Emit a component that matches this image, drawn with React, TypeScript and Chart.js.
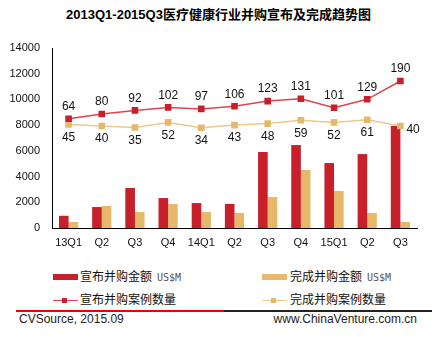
import React, { useEffect, useRef } from "react";
import { Chart, registerables } from "chart.js";

Chart.register(...registerables);

const categories = ["13Q1", "Q2", "Q3", "Q4", "14Q1", "Q2", "Q3", "Q4", "15Q1", "Q2", "Q3"];
const announcedAmount = [950, 1630, 3110, 2330, 1940, 1870, 5910, 6450, 5050, 5750, 7930];
const completedAmount = [470, 1710, 1240, 1870, 1240, 1170, 2410, 4510, 2880, 1170, 470];
const announcedCount = [64, 80, 92, 102, 97, 106, 123, 131, 101, 129, 190];
const completedCount = [45, 40, 35, 52, 34, 43, 48, 59, 52, 61, 40];
const amountAxis = { min: 0, max: 14000, step: 2000 };
const countAxis = { min: -300, max: 300 };

const RED = "#C8202A";
const RED_LINE = "#DE4650";
const GOLD = "#E6B86A";
const GOLD_LINE = "#EEC88C";
const LATIN = "'Liberation Sans', Arial, sans-serif";
const CJK = "'Liberation Sans', 'Noto Sans CJK SC', sans-serif";

const valueLabels = {
  id: "valueLabels",
  afterDatasetsDraw(chart: any) {
    const ctx = chart.ctx;
    ctx.save();
    ctx.font = "12px " + LATIN;
    ctx.fillStyle = "#111";
    ctx.textBaseline = "middle";
    [2, 3].forEach((di) => {
      const meta = chart.getDatasetMeta(di);
      const data = chart.data.datasets[di].data as number[];
      meta.data.forEach((pt: any, i: number) => {
        const v = String(data[i]);
        if (di === 2) {
          ctx.textAlign = "center";
          ctx.fillText(v, pt.x, pt.y - 12);
        } else if (i === data.length - 1) {
          ctx.textAlign = "left";
          ctx.fillText(v, pt.x + 6, pt.y + 4);
        } else {
          ctx.textAlign = "center";
          ctx.fillText(v, pt.x, pt.y + 13);
        }
      });
    });
    ctx.restore();
  },
};

export default function App() {
  const ref = useRef<HTMLCanvasElement | null>(null);

  useEffect(() => {
    if (!ref.current) return;
    const chart = new Chart(ref.current, {
      type: "bar",
      data: {
        labels: categories,
        datasets: [
          {
            type: "bar",
            label: "宣布并购金额 US$M",
            data: announcedAmount,
            backgroundColor: RED,
            yAxisID: "y",
            order: 1,
            categoryPercentage: 0.58,
            barPercentage: 1,
          },
          {
            type: "bar",
            label: "完成并购金额 US$M",
            data: completedAmount,
            backgroundColor: GOLD,
            yAxisID: "y",
            order: 1,
            categoryPercentage: 0.58,
            barPercentage: 1,
          },
          {
            type: "line",
            label: "宣布并购案例数量",
            data: announcedCount,
            borderColor: RED_LINE,
            borderWidth: 1.5,
            backgroundColor: RED,
            pointBackgroundColor: RED,
            pointBorderColor: RED,
            pointStyle: "rect",
            pointRadius: 3.6,
            tension: 0,
            yAxisID: "y1",
            order: 0,
          },
          {
            type: "line",
            label: "完成并购案例数量",
            data: completedCount,
            borderColor: GOLD_LINE,
            borderWidth: 1.5,
            backgroundColor: GOLD,
            pointBackgroundColor: GOLD,
            pointBorderColor: GOLD,
            pointStyle: "rect",
            pointRadius: 3.6,
            tension: 0,
            yAxisID: "y1",
            order: 0,
          },
        ] as any,
      },
      options: {
        responsive: false,
        animation: false,
        layout: { padding: { top: 48, right: 28, left: 0, bottom: 0 } },
        plugins: {
          legend: { display: false },
          title: { display: false },
          tooltip: { enabled: false },
        },
        scales: {
          x: {
            grid: { display: false, drawTicks: false },
            border: { display: true, color: "#000", width: 1 },
            ticks: { color: "#111", font: { size: 11, family: LATIN }, padding: 8, maxRotation: 0, autoSkip: false },
            afterFit: (s: any) => {
              s.height = 32;
            },
          },
          y: {
            min: amountAxis.min,
            max: amountAxis.max,
            grid: { display: false, drawTicks: false },
            border: { display: true, color: "#000", width: 1 },
            ticks: {
              stepSize: amountAxis.step,
              color: "#111",
              font: { size: 11, family: LATIN },
              padding: 12,
              callback: (v: any) => String(v),
            },
            afterFit: (s: any) => {
              s.width = 52;
            },
          },
          y1: {
            display: false,
            position: "right",
            min: countAxis.min,
            max: countAxis.max,
          },
        },
      },
      plugins: [valueLabels],
    } as any);
    return () => chart.destroy();
  }, []);

  const legendText: React.CSSProperties = {
    position: "absolute",
    font: "12px " + CJK,
    lineHeight: "16px",
    color: "#111",
    whiteSpace: "nowrap",
  };
  const unit: React.CSSProperties = {
    font: "10px 'DejaVu Sans Mono', 'Liberation Mono', monospace",
    color: "#555",
    marginLeft: 5,
  };

  return (
    <div
      style={{
        position: "fixed",
        left: 0,
        top: 0,
        width: 445,
        height: 337,
        background: "#fff",
        overflow: "hidden",
      }}
    >
      <div
        style={{
          position: "absolute",
          top: 7,
          left: 0,
          width: 437,
          textAlign: "center",
          font: "bold 13px " + CJK,
          lineHeight: "16px",
          color: "#000",
          whiteSpace: "nowrap",
        }}
      >
        2013Q1-2015Q3医疗健康行业并购宣布及完成趋势图
      </div>
      <canvas ref={ref} width={445} height={260} style={{ position: "absolute", left: 0, top: 0 }} />

      <div style={{ position: "absolute", left: 53, top: 274, width: 25, height: 6, background: RED }} />
      <div style={{ ...legendText, left: 80, top: 269 }}>
        宣布并购金额<span style={unit}>US$M</span>
      </div>
      <div style={{ position: "absolute", left: 262, top: 274, width: 25, height: 6, background: GOLD }} />
      <div style={{ ...legendText, left: 290, top: 269 }}>
        完成并购金额<span style={unit}>US$M</span>
      </div>

      <div style={{ position: "absolute", left: 53, top: 299.5, width: 25, height: 1.5, background: RED_LINE }} />
      <div style={{ position: "absolute", left: 62, top: 298, width: 5, height: 5, background: RED }} />
      <div style={{ ...legendText, left: 80, top: 292 }}>宣布并购案例数量</div>
      <div style={{ position: "absolute", left: 262, top: 299.5, width: 25, height: 1.5, background: GOLD_LINE }} />
      <div style={{ position: "absolute", left: 271, top: 298, width: 5, height: 5, background: GOLD }} />
      <div style={{ ...legendText, left: 290, top: 292 }}>完成并购案例数量</div>

      <div style={{ position: "absolute", left: 16, top: 310, width: 208, height: 2, background: "#F00000" }} />
      <div style={{ position: "absolute", left: 224, top: 310, width: 208, height: 2, background: "#222" }} />
      <div style={{ position: "absolute", left: 19, top: 312, font: "12px " + LATIN, lineHeight: "14px", color: "#222" }}>
        CVSource, 2015.09
      </div>
      <div style={{ position: "absolute", right: 28, top: 312, font: "12px " + LATIN, lineHeight: "14px", color: "#222" }}>
        www.ChinaVenture.com.cn
      </div>
    </div>
  );
}
